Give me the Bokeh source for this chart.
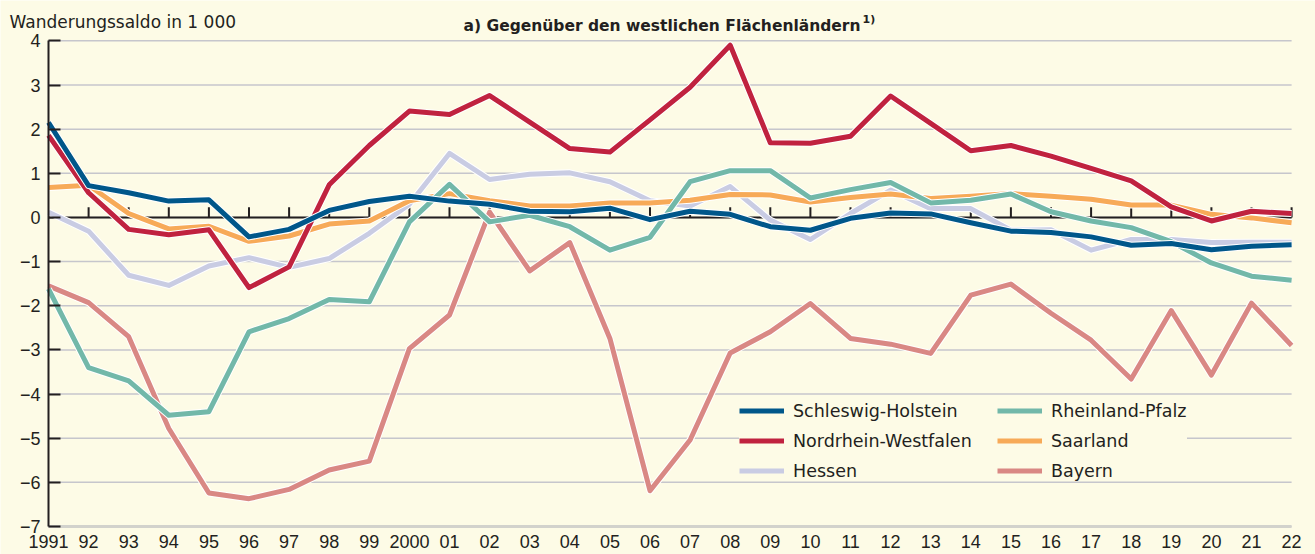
from bokeh.plotting import figure
from bokeh.models import Range1d, FixedTicker, Legend, LegendItem, Label
from bokeh.embed import file_html
from bokeh.resources import INLINE

years = list(range(1991, 2023))
year_labels = ["1991", "92", "93", "94", "95", "96", "97", "98", "99", "2000",
               "01", "02", "03", "04", "05", "06", "07", "08", "09", "10",
               "11", "12", "13", "14", "15", "16", "17", "18", "19", "20",
               "21", "22"]
y_ticks = [-7, -6, -5, -4, -3, -2, -1, 0, 1, 2, 3, 4]
y_tick_labels = ["\u22127", "\u22126", "\u22125", "\u22124", "\u22123", "\u22122",
                 "\u22121", "0", "1", "2", "3", "4"]

schleswig_holstein = [2.15, 0.72, 0.56, 0.37, 0.40, -0.44, -0.27, 0.16, 0.36, 0.48,
                      0.37, 0.30, 0.14, 0.13, 0.21, -0.05, 0.14, 0.07, -0.21, -0.29,
                      -0.02, 0.10, 0.08, -0.12, -0.31, -0.34, -0.44, -0.63, -0.59, -0.73,
                      -0.65, -0.62]
nordrhein_westfalen = [1.86, 0.56, -0.27, -0.39, -0.28, -1.59, -1.12, 0.74, 1.63, 2.41,
                       2.33, 2.76, 2.16, 1.56, 1.48, 2.21, 2.95, 3.90, 1.69, 1.68,
                       1.84, 2.75, 2.13, 1.51, 1.63, 1.39, 1.11, 0.83, 0.24, -0.08,
                       0.14, 0.09]
hessen = [0.12, -0.31, -1.31, -1.54, -1.10, -0.91, -1.13, -0.93, -0.36, 0.30,
          1.45, 0.86, 0.98, 1.01, 0.81, 0.38, 0.26, 0.70, -0.06, -0.50,
          0.09, 0.62, 0.20, 0.20, -0.29, -0.28, -0.74, -0.50, -0.50, -0.57,
          -0.56, -0.56]
rheinland_pfalz = [-1.62, -3.40, -3.70, -4.48, -4.40, -2.59, -2.29, -1.86, -1.91, -0.10,
                   0.75, -0.10, 0.05, -0.21, -0.74, -0.45, 0.81, 1.06, 1.06, 0.44,
                   0.63, 0.79, 0.33, 0.39, 0.53, 0.13, -0.08, -0.23, -0.55, -1.03,
                   -1.33, -1.42]
saarland = [0.68, 0.73, 0.09, -0.26, -0.20, -0.54, -0.42, -0.15, -0.08, 0.38,
            0.54, 0.38, 0.26, 0.26, 0.33, 0.33, 0.39, 0.52, 0.51, 0.35,
            0.45, 0.53, 0.43, 0.48, 0.54, 0.48, 0.41, 0.28, 0.28, 0.07,
            -0.01, -0.12]
bayern = [-1.55, -1.93, -2.70, -4.78, -6.24, -6.37, -6.16, -5.72, -5.52, -2.97,
          -2.21, 0.12, -1.21, -0.57, -2.74, -6.19, -5.04, -3.07, -2.59, -1.95,
          -2.74, -2.87, -3.08, -1.76, -1.51, -2.17, -2.78, -3.66, -2.11, -3.57,
          -1.94, -2.90]

series_names = ["Schleswig-Holstein", "Nordrhein-Westfalen", "Hessen",
                "Rheinland-Pfalz", "Saarland", "Bayern"]
series_values = [schleswig_holstein, nordrhein_westfalen, hessen,
                 rheinland_pfalz, saarland, bayern]
series_colors = ["#00578a", "#c0223f", "#c9cce3", "#72b8a9", "#f7aa58", "#d98884"]
draw_order = [5, 2, 4, 3, 1, 0]

BG = "#fdfbe6"
TXT = "#231f20"
GRID = "#c6c6cc"

# page geometry (pixels)
W, H = 1315, 554
X0_PX, PX_PER_YEAR = 48.0, 40.1      # position of first year, spacing
YB_PX, PX_PER_UNIT = 526.0, 44.15    # position of lowest tick, spacing

x_start = years[0] - X0_PX / PX_PER_YEAR
x_end = x_start + W / PX_PER_YEAR
y_start = y_ticks[0] - (H - YB_PX) / PX_PER_UNIT
y_end = y_start + H / PX_PER_UNIT

p = figure(frame_width=W, frame_height=H,
           x_range=Range1d(x_start, x_end), y_range=Range1d(y_start, y_end),
           output_backend="svg", toolbar_location=None,
           min_border=0)
p.background_fill_color = BG
p.border_fill_color = BG
p.outline_line_color = None
p.grid.visible = False

# gridlines limited to the plotting area
p.segment(x0=[years[0]] * len(y_ticks), y0=y_ticks,
          x1=[years[-1]] * len(y_ticks), y1=y_ticks,
          line_color=GRID, line_width=1.5)

# y axis at 1991
p.yaxis.fixed_location = years[0]
p.yaxis.bounds = (y_ticks[0], y_ticks[-1])
p.yaxis.ticker = FixedTicker(ticks=y_ticks)
p.yaxis.major_label_overrides = {t: l for t, l in zip(y_ticks, y_tick_labels)}
p.yaxis.axis_line_color = TXT
p.yaxis.axis_line_width = 2
p.yaxis.major_tick_line_color = TXT
p.yaxis.major_tick_line_width = 2
p.yaxis.major_tick_in = 12
p.yaxis.major_tick_out = 0
p.yaxis.minor_tick_line_color = None
p.yaxis.major_label_standoff = 8
p.yaxis.major_label_text_font = "Liberation Sans"
p.yaxis.major_label_text_font_size = "18px"
p.yaxis.major_label_text_color = TXT

# x axis at -7
p.xaxis.fixed_location = y_ticks[0]
p.xaxis.bounds = (years[0], years[-1])
p.xaxis.ticker = FixedTicker(ticks=years)
p.xaxis.major_label_overrides = {y: l for y, l in zip(years, year_labels)}
p.xaxis.axis_line_color = "#d2d2cc"
p.xaxis.axis_line_width = 3
p.xaxis.major_tick_line_color = None
p.xaxis.minor_tick_line_color = None
p.xaxis.major_label_standoff = 2
p.xaxis.major_label_text_font = "Liberation Sans"
p.xaxis.major_label_text_font_size = "18px"
p.xaxis.major_label_text_color = TXT

# zero line with upward ticks
p.segment(x0=[years[0]], y0=[0], x1=[years[-1]], y1=[0],
          line_color=TXT, line_width=2)
p.segment(x0=years[1:], y0=[0] * (len(years) - 1), x1=years[1:],
          y1=[0.23] * (len(years) - 1), line_color=TXT, line_width=2)

renderers = {}
for i in draw_order:
    p.line(years, series_values[i], line_color="white", line_width=7,
           line_join="round")
    renderers[i] = p.line(years, series_values[i], line_color=series_colors[i],
                          line_width=5, line_join="round")

common = dict(glyph_width=45, glyph_height=21, label_height=21, spacing=9,
              padding=1, margin=0, label_standoff=9,
              background_fill_color=BG, background_fill_alpha=1.0,
              border_line_color=None,
              label_text_font="DejaVu Sans", label_text_font_size="17.5px",
              label_text_color=TXT)
leg1 = Legend(items=[LegendItem(label=series_names[i], renderers=[renderers[i]])
                     for i in (0, 1, 2)],
              location=(739, H - 481), label_width=215, **common)
leg2 = Legend(items=[LegendItem(label=series_names[i], renderers=[renderers[i]])
                     for i in (3, 4, 5)],
              location=(997, H - 481), **common)
p.add_layout(leg1)
p.add_layout(leg2)

# texts above the plot
p.add_layout(Label(x=9, y=H - 21, x_units="screen", y_units="screen",
                   text="Wanderungssaldo in 1 000", text_font="DejaVu Sans",
                   text_font_size="17px", text_color=TXT,
                   text_baseline="alphabetic"))
p.add_layout(Label(x=463, y=H - 25.5, x_units="screen", y_units="screen",
                   text="a) Gegenüber den westlichen Flächenländern",
                   text_font="DejaVu Sans", text_font_style="bold",
                   text_font_size="15.5px", text_color=TXT,
                   text_baseline="alphabetic"))
p.add_layout(Label(x=862, y=H - 19, x_units="screen", y_units="screen",
                   text="1)", text_font="DejaVu Sans", text_font_style="bold",
                   text_font_size="11px", text_color=TXT,
                   text_baseline="alphabetic"))

open("out.html", "w").write(file_html(p, INLINE))
